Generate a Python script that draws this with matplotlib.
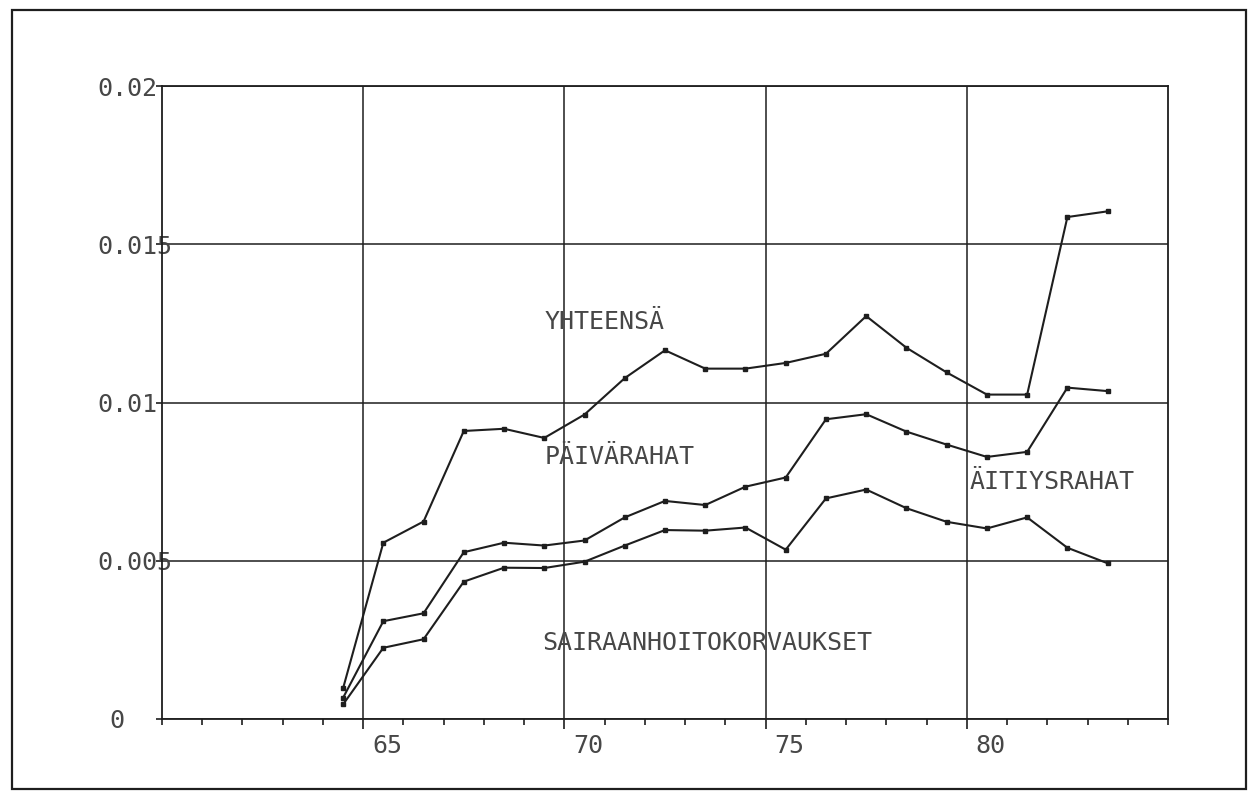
import numpy as np
import matplotlib
matplotlib.use('Agg')
import matplotlib.pyplot as plt
from matplotlib.ticker import MultipleLocator
from matplotlib.patches import Rectangle
import matplotlib.transforms as mtransforms

# years 1964-1983, plotted in the middle of each year
years = [64, 65, 66, 67, 68, 69, 70, 71, 72, 73, 74, 75, 76, 77, 78, 79, 80, 81, 82, 83]

yhteensa = [0.00097, 0.00557, 0.00624, 0.00910, 0.00917, 0.00888, 0.00962, 0.01077,
            0.01165, 0.01107, 0.01107, 0.01125, 0.01154, 0.01273, 0.01173, 0.01095,
            0.01025, 0.01025, 0.01586, 0.01604]
paivarahat = [0.00067, 0.00309, 0.00334, 0.00527, 0.00557, 0.00548, 0.00564, 0.00637,
              0.00689, 0.00676, 0.00734, 0.00763, 0.00947, 0.00963, 0.00908, 0.00867,
              0.00828, 0.00844, 0.01047, 0.01036]
sairaanhoito = [0.00046, 0.00225, 0.00252, 0.00434, 0.00478, 0.00477, 0.00497, 0.00548,
                0.00597, 0.00595, 0.00605, 0.00535, 0.00697, 0.00725, 0.00666, 0.00623,
                0.00602, 0.00637, 0.00541, 0.00492]

xticks = [65, 70, 75, 80]
xticklabels = ['65', '70', '75', '80']
yticks = [0, 0.005, 0.01, 0.015, 0.02]
yticklabels = ['0', '0.005', '0.01', '0.015', '0.02']

# curve labels (text, x, y)
labels = [('YHTEENSÄ', 69.5, 0.01255),
          ('PÄIVÄRAHAT', 69.5, 0.00827),
          ('ÄITIYSRAHAT', 80.08, 0.0075),
          ('SAIRAANHOITOKORVAUKSET', 69.45, 0.00239)]

ink = '#1e1e1e'
txt = '#474747'
font = ['DejaVu Sans Mono']
fs = 18

fig = plt.figure(figsize=(12.53, 7.92), dpi=100)
fig.patches.append(Rectangle((12/1253, 3/792), 1234/1253, 779/792, transform=fig.transFigure,
                             fill=False, edgecolor=ink, linewidth=1.6))

ax = fig.add_axes([162/1253, 73/792, 1006/1253, 633/792])
x = np.array(years) + 0.5
for series in [yhteensa, paivarahat, sairaanhoito]:
    ax.plot(x, series, color=ink, lw=1.5, marker='s', markersize=2.6)

ax.set_xlim(60, 85)
ax.set_ylim(0, 0.02)
ax.set_xticks(xticks)
ax.set_xticklabels(xticklabels, family=font, fontsize=fs, color=txt, ha='left')
ax.xaxis.set_minor_locator(MultipleLocator(1))
ax.set_yticks(yticks)
ax.set_yticklabels(yticklabels, family=font, fontsize=fs, color=txt, ha='left')
ax.tick_params(axis='x', which='major', length=7, width=1.2, color=ink, pad=3.5)
ax.tick_params(axis='x', which='minor', length=4, width=1.2, color=ink)
ax.tick_params(axis='y', which='major', length=4, width=1.2, color=ink, pad=42.8)
ax.grid(True, which='major', color=ink, lw=1.1)
for s in ax.spines.values():
    s.set_color(ink)
    s.set_linewidth(1.3)

# x labels start just right of their gridline
off = mtransforms.ScaledTranslation(9/100, 0, fig.dpi_scale_trans)
for lbl in ax.get_xticklabels():
    lbl.set_transform(lbl.get_transform() + off)
# the zero label sits a little further right
off0 = mtransforms.ScaledTranslation(12/100, 0, fig.dpi_scale_trans)
zero = ax.get_yticklabels()[0]
zero.set_transform(zero.get_transform() + off0)

for t, tx, ty in labels:
    ax.text(tx, ty, t, family=font, fontsize=fs, color=txt, ha='left', va='center')

fig.savefig('out.png', dpi=100)
